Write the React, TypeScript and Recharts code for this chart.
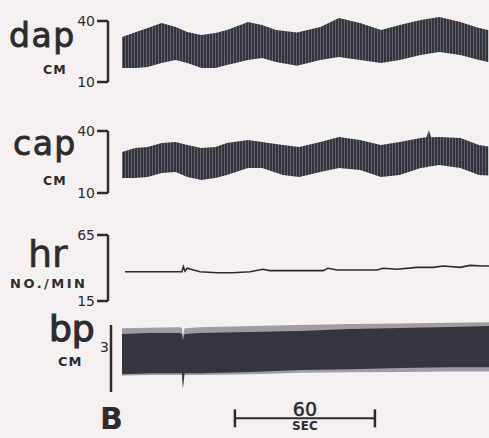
import React from 'react';
import { ComposedChart, Area, Line, XAxis, YAxis, ReferenceLine } from 'recharts';

// time in seconds from the start of the record
const dapTime = [0, 6, 11, 17, 23, 28, 34, 40, 45, 54, 60, 66, 75, 85, 93, 102, 111, 119, 128, 136, 145, 153, 157];
const dapHigh = [32.1, 34.6, 36.6, 39.0, 37.0, 34.6, 33.1, 34.1, 35.6, 39.5, 38.0, 35.6, 34.3, 37.0, 41.5, 39.0, 35.6, 38.0, 40.5, 42.0, 39.5, 36.6, 35.6];
const dapLow = [16.9, 16.9, 17.4, 19.3, 20.8, 19.3, 16.9, 16.9, 18.4, 20.8, 21.8, 19.8, 18.0, 20.8, 22.3, 20.8, 19.3, 20.8, 23.3, 24.8, 23.3, 20.8, 19.8];

const capTime = [0, 5.6, 11, 17, 23, 28, 34, 40, 45, 54, 60, 69, 76, 85, 93, 102, 111, 119, 128, 130.5, 131.5, 132.5, 136, 145, 153, 157];
const capHigh = [29.8, 31.8, 32.3, 34.2, 34.7, 33.2, 31.8, 32.3, 34.2, 35.6, 34.7, 33.2, 32.3, 34.7, 37.1, 35.6, 33.2, 34.7, 36.6, 37.0, 40.5, 37.0, 37.1, 36.6, 33.2, 32.5];
const capLow = [17.3, 17.3, 17.7, 19.7, 20.2, 17.7, 16.3, 17.3, 18.7, 22.1, 22.1, 18.7, 17.7, 20.2, 22.1, 21.1, 17.7, 18.7, 22.1, 22.5, 22.8, 23.0, 23.6, 22.1, 18.7, 18.5];

const hrTime = [1.3, 12, 24.9, 25.7, 26.3, 27, 27.9, 33.4, 40.7, 47.6, 54.9, 60.4, 63.4, 69, 86.2, 88.3, 92.2, 109.3, 111.9, 117.9, 126.4, 133.3, 137.6, 144.9, 149.2, 154.7, 157.3];
const hrRate = [37.2, 37.2, 37.2, 37.2, 41.0, 37.6, 39.8, 37.2, 36.4, 36.4, 37.2, 39.0, 38.0, 38.0, 38.0, 39.8, 38.5, 38.5, 39.8, 39.0, 40.5, 40.5, 41.5, 40.5, 42.0, 41.5, 41.5];

const bpTime = [0, 12, 24.9, 25.7, 26.1, 26.8, 33.4, 54.9, 76.3, 97.7, 119.1, 140.6, 157.3];
const bpHigh = [2.60, 2.64, 2.64, 2.60, 2.33, 2.60, 2.64, 2.69, 2.73, 2.82, 2.87, 2.91, 2.96];
const bpLow = [0.80, 0.84, 0.84, 0.84, 0.17, 0.84, 0.84, 0.89, 0.98, 1.02, 1.07, 1.11, 1.11];
const bpEdgeHigh = [2.86, 2.88, 2.90, 2.86, 2.50, 2.86, 2.90, 2.95, 3.00, 3.04, 3.07, 3.10, 3.12];
const bpEdgeLow = [0.74, 0.76, 0.76, 0.76, 0.17, 0.76, 0.76, 0.80, 0.86, 0.88, 0.90, 0.92, 0.92];

const dapTicks = [10, 40];
const capTicks = [10, 40];
const hrTicks = [15, 65];
const bpTicks = [0, 3];

const scaleStart = 48.4;
const scaleSeconds = 60;
const scaleLevel = -1.18;

const dapData = dapTime.map((t, i) => ({ t, band: [dapLow[i], dapHigh[i]] }));
const capData = capTime.map((t, i) => ({ t, band: [capLow[i], capHigh[i]] }));
const hrData = hrTime.map((t, i) => ({ t, hr: hrRate[i] }));
const bpData = bpTime.map((t, i) => ({
  t,
  edge: [bpEdgeLow[i], bpEdgeHigh[i]],
  band: [bpLow[i], bpHigh[i]],
}));

const INK = '#2c2c30';
const FONT = 'DejaVu Sans';
const tickStyle = { fill: INK, fontSize: 14, fontFamily: FONT };

function ScaleBar(props: any) {
  const { x1, y1, x2 } = props;
  const mid = (x1 + x2) / 2;
  return (
    <g>
      <line x1={x1} y1={y1} x2={x2} y2={y1} stroke={INK} strokeWidth={2} />
      <line x1={x1} y1={y1 - 9} x2={x1} y2={y1 + 9} stroke={INK} strokeWidth={2.5} />
      <line x1={x2} y1={y1 - 9} x2={x2} y2={y1 + 9} stroke={INK} strokeWidth={2.5} />
      <text x={mid} y={y1 - 2} textAnchor="middle" fontSize={19} fontFamily={FONT} fill={INK} stroke={INK} strokeWidth={0.5}>60</text>
      <text x={mid} y={y1 + 12} textAnchor="middle" fontSize={12} fontWeight="bold" fontFamily={FONT} fill={INK}>SEC</text>
    </g>
  );
}

function bracket(domain: number[], ticks: number[], labels = true, tickSize = 11) {
  return (
    <YAxis
      type="number"
      domain={domain}
      ticks={ticks}
      interval={0}
      allowDataOverflow
      width={20}
      tickSize={tickSize}
      tickMargin={2}
      axisLine={{ stroke: INK, strokeWidth: 2.5 }}
      tickLine={{ stroke: INK, strokeWidth: 2.5 }}
      tick={labels ? tickStyle : false}
    />
  );
}

function timeAxis(padLeft: number) {
  return <XAxis dataKey="t" type="number" domain={[0, 157.3]} hide padding={{ left: padLeft, right: 0 }} />;
}

function Stripes() {
  return (
    <defs>
      <pattern id="pulse" width={3} height={8} patternUnits="userSpaceOnUse">
        <rect width={3} height={8} fill="#62626e" />
        <rect width={2} height={8} fill="#33333e" />
      </pattern>
    </defs>
  );
}

export default function App() {
  return (
    <div style={{ position: 'absolute', left: 0, top: 0, width: 489, height: 438, background: '#f6f1f0', overflow: 'hidden' }}>
      <style>{'.trace .recharts-surface{overflow:visible}.trace [clip-path]{clip-path:none}'}</style>

      <div className="trace" style={{ position: 'absolute', left: 0, top: 11 }}>
        <ComposedChart width={489} height={81} data={dapData} margin={{ top: 10, right: 0, bottom: 10, left: 88 }}>
          <Stripes />
          {timeAxis(14)}
          {bracket([10, 40], dapTicks)}
          <Area dataKey="band" type="linear" stroke="none" fill="url(#pulse)" fillOpacity={1} isAnimationActive={false} />
        </ComposedChart>
      </div>

      <div className="trace" style={{ position: 'absolute', left: 0, top: 121 }}>
        <ComposedChart width={489} height={82} data={capData} margin={{ top: 10, right: 0, bottom: 10, left: 88 }}>
          <Stripes />
          {timeAxis(14)}
          {bracket([10, 40], capTicks)}
          <Area dataKey="band" type="linear" stroke="none" fill="url(#pulse)" fillOpacity={1} isAnimationActive={false} />
        </ComposedChart>
      </div>

      <div className="trace" style={{ position: 'absolute', left: 0, top: 225 }}>
        <ComposedChart width={489} height={86} data={hrData} margin={{ top: 10, right: 0, bottom: 10, left: 88 }}>
          {timeAxis(14)}
          {bracket([15, 65], hrTicks)}
          <Line dataKey="hr" type="linear" stroke={INK} strokeWidth={1.6} dot={false} isAnimationActive={false} />
        </ComposedChart>
      </div>

      <div className="trace" style={{ position: 'absolute', left: 0, top: 315 }}>
        <ComposedChart width={489} height={123} data={bpData} margin={{ top: 10, right: 0, bottom: 46, left: 91 }}>
          {timeAxis(11)}
          {bracket([0, 3], bpTicks, false, 12)}
          <Area dataKey="edge" type="linear" stroke="none" fill="#9e9ca6" fillOpacity={1} isAnimationActive={false} />
          <Area dataKey="band" type="linear" stroke="none" fill="#35353f" fillOpacity={1} isAnimationActive={false} />
          <ReferenceLine
            segment={[{ x: scaleStart, y: scaleLevel }, { x: scaleStart + scaleSeconds, y: scaleLevel }]}
            ifOverflow="visible"
            shape={ScaleBar}
          />
        </ComposedChart>
      </div>

      <svg width={489} height={438} style={{ position: 'absolute', left: 0, top: 0, pointerEvents: 'none' }}>
        <g fill={INK} stroke={INK} fontFamily={FONT}>
          <text x={9} y={47} fontSize={33} strokeWidth={0.9} letterSpacing={1.5}>dap</text>
          <text x={43} y={74} fontSize={12.5} strokeWidth={0} fontWeight="bold" letterSpacing={1}>CM</text>
          <text x={13} y={155} fontSize={33} strokeWidth={0.9} letterSpacing={1.5}>cap</text>
          <text x={43} y={185} fontSize={12.5} strokeWidth={0} fontWeight="bold" letterSpacing={1}>CM</text>
          <text x={28} y={267} fontSize={38} strokeWidth={0.6}>hr</text>
          <text x={10} y={288} fontSize={13} strokeWidth={0} fontWeight="bold" letterSpacing={2.5}>NO./MIN</text>
          <text x={49} y={341} fontSize={36} strokeWidth={1.2}>bp</text>
          <text x={58} y={366} fontSize={13} strokeWidth={0} fontWeight="bold" letterSpacing={1}>CM</text>
          <text x={100} y={352} fontSize={14} strokeWidth={0}>3</text>
          <text x={100} y={429} fontSize={30} strokeWidth={0} fontWeight="bold">B</text>
        </g>
      </svg>
    </div>
  );
}
